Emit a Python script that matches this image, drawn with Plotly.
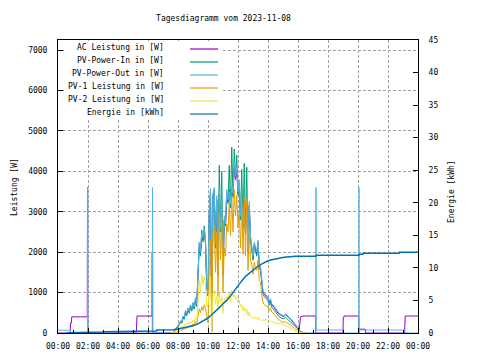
import pandas as pd
import plotly.graph_objects as go

DAY = "2023-11-08"
TITLE = "Tagesdiagramm vom 2023-11-08"
NAMES = ["AC Leistung in [W]", "PV-Power-In in [W]", "PV-Power-Out in [W]",
         "PV-1 Leistung in [W]", "PV-2 Leistung in [W]", "Energie in [kWh]"]
COLORS = ["#9400d3", "#009e73", "#56b4e9", "#e69f00", "#f0e442", "#0072b2"]

# day grid 07:30 .. 16:30 every 5 minutes (109 samples)
DAY_START, DAY_END, DAY_STEP = "07:30", "16:30", "5min"

PV_OUT_DAY = [
    0, 0, 20, 50, 90, 130, 170, 240, 300, 270, 420, 380,
    560, 480, 620, 540, 700, 600, 760, 650, 880, 720, 1500, 2250,
    2000, 2480, 2350, 2580, 2300, 1200, 950, 3050, 3580, 60, 3450, 3600,
    2200, 3400, 1500, 3550, 2600, 3000, 1500, 2900, 2700, 3550, 3300, 3500,
    3200, 3650, 3450, 4200, 3900, 4100, 3500, 3800, 2900, 3250, 2700, 3100,
    2550, 3300, 2100, 3250, 2400, 2200, 1900, 2250, 2100, 2000, 2300, 1700,
    1650, 1300, 1050, 1000, 950, 920, 900, 780, 850, 720, 700, 650,
    600, 560, 520, 480, 470, 450, 430, 440, 470, 450, 420, 400,
    360, 330, 290, 250, 200, 160, 120, 80, 50, 30, 15, 5,
    0]
PV_IN_DAY = [
    0, 0, 10, 35, 70, 110, 150, 210, 260, 240, 370, 340,
    500, 430, 560, 490, 640, 540, 690, 590, 800, 650, 1400, 2150,
    1900, 2550, 2250, 2650, 2200, 1100, 1000, 2950, 3500, 50, 3400, 3550,
    2100, 3300, 1450, 4150, 2500, 4000, 1450, 2800, 2650, 3450, 3200, 4150,
    3100, 4600, 3350, 4550, 3800, 4400, 3400, 3700, 2800, 4050, 2600, 4200,
    2450, 4100, 2000, 3150, 2300, 2100, 1800, 2150, 2000, 1900, 2200, 1600,
    1550, 1200, 950, 900, 860, 830, 800, 690, 760, 630, 610, 560,
    510, 480, 440, 400, 390, 370, 350, 360, 380, 360, 330, 310,
    280, 250, 220, 180, 140, 110, 80, 55, 35, 20, 10, 3,
    0]
PV1_DAY = [
    0, 0, 0, 5, 10, 20, 30, 50, 70, 60, 100, 90,
    140, 110, 170, 140, 200, 160, 230, 180, 280, 200, 400, 600,
    500, 650, 560, 700, 600, 350, 250, 1600, 2300, 20, 2500, 2600,
    1500, 2500, 900, 3000, 1800, 2900, 1000, 2100, 1900, 2700, 2500, 3200,
    2400, 3400, 2500, 3550, 2900, 3400, 2600, 3000, 2100, 3200, 1950, 3350,
    1900, 3300, 1550, 2550, 1800, 1700, 1450, 1750, 1600, 1550, 1800, 1300,
    1250, 950, 750, 700, 680, 650, 640, 560, 620, 520, 500, 460,
    420, 380, 350, 320, 300, 280, 260, 270, 280, 260, 240, 220,
    200, 170, 150, 120, 90, 70, 50, 35, 20, 10, 5, 0,
    0]
PV2_DAY = [
    0, 0, 5, 20, 40, 60, 80, 110, 140, 120, 180, 160,
    230, 190, 260, 220, 300, 250, 320, 270, 400, 300, 700, 1300,
    1000, 1450, 1200, 1400, 1150, 650, 700, 1000, 1400, 20, 1000, 1050,
    700, 900, 600, 1000, 750, 900, 500, 850, 800, 900, 850, 1000,
    750, 1050, 900, 950, 850, 900, 750, 800, 650, 700, 550, 650,
    500, 600, 420, 520, 400, 380, 350, 400, 360, 340, 400, 320,
    340, 300, 330, 300, 350, 320, 300, 280, 300, 270, 260, 250,
    250, 240, 240, 230, 230, 220, 210, 200, 190, 170, 150, 130,
    100, 80, 60, 45, 30, 20, 10, 5, 0, 0, 0, 0,
    0]
AC_DAY = [
    0, 0, 15, 45, 85, 120, 160, 230, 290, 260, 400, 360,
    540, 460, 600, 520, 680, 580, 740, 630, 850, 700, 1450, 2200,
    1950, 2400, 2300, 2500, 2250, 1150, 920, 2950, 3500, 50, 3350, 3500,
    2150, 3300, 1450, 3450, 2550, 2950, 1450, 2800, 2650, 3450, 3250, 3550,
    3100, 3550, 3400, 4100, 3800, 4000, 3450, 3700, 2850, 3150, 2650, 3000,
    2500, 3200, 2050, 3150, 2350, 2150, 1850, 2200, 2050, 1950, 2250, 1650,
    1600, 1250, 1000, 960, 910, 880, 860, 750, 810, 690, 670, 620,
    570, 530, 490, 460, 450, 430, 410, 420, 450, 430, 400, 380,
    340, 310, 270, 230, 190, 150, 110, 75, 400, 420, 420, 420,
    420]

# night / evening parts
AC_NIGHT_T = ["00:00", "00:49", "00:50", "00:54", "00:55", "01:57", "01:58", "01:59",
              "05:13", "05:14", "05:15", "05:16", "06:16", "06:17", "06:18", "07:29"]
AC_NIGHT_V = [0, 0, 250, 250, 400, 400, 3600, 0,
              0, 380, 380, 420, 420, 2000, 0, 0]
AC_EVE_T = ["17:10", "17:11", "19:00", "19:01", "19:03", "19:04", "20:02", "20:03",
            "20:04", "20:29", "20:30", "23:06", "23:07", "23:08", "23:09", "24:00"]
AC_EVE_V = [420, 0, 0, 380, 380, 420, 420, 0,
            95, 95, 0, 0, 380, 380, 420, 420]

PV_OUT_NIGHT_T = ["00:00", "00:49", "00:50", "01:58", "01:59", "02:00", "06:17", "06:18", "06:19", "06:20"]
PV_OUT_NIGHT_V = [70, 70, 0, 0, 3600, 0, 0, 3600, 1800, 0]
PV_OUT_EVE_T = ["17:11", "17:12", "17:13", "19:01", "19:02", "20:03", "20:04", "20:05", "23:07", "23:08", "24:00"]
PV_OUT_EVE_V = [0, 3600, 75, 75, 0, 0, 3600, 75, 75, 0, 0]

ENERGY_T = ["00:35", "01:59", "02:00", "02:59", "03:00", "04:14", "04:15", "06:34", "06:35",
            "07:39", "07:40", "08:00", "08:20", "08:40",
            "09:00", "09:20", "09:40", "10:00", "10:15", "10:30", "10:45", "11:00", "11:15",
            "11:30", "11:45", "12:00", "12:15", "12:30", "12:45", "13:00", "13:15", "13:30",
            "13:45", "14:00", "14:15", "14:30", "14:50", "15:05", "15:50", "17:11", "17:12",
            "20:04", "20:05", "20:19", "20:20", "22:44", "22:45", "24:00"]
ENERGY_V = [0.05, 0.05, 0.15, 0.15, 0.2, 0.2, 0.3, 0.3, 0.45,
            0.45, 0.5, 0.6, 0.75, 0.9,
            1.1, 1.4, 1.8, 2.3, 2.8, 3.3, 3.9, 4.5, 5.0,
            5.7, 6.5, 7.3, 8.0, 8.7, 9.2, 9.7, 10.1, 10.5,
            10.85, 11.1, 11.25, 11.35, 11.5, 11.63, 11.78, 11.78, 11.94,
            11.94, 12.1, 12.1, 12.24, 12.24, 12.4, 12.4]

Y_TICKS = [0, 1000, 2000, 3000, 4000, 5000, 6000, 7000]
Y2_TICKS = [0, 5, 10, 15, 20, 25, 30, 35, 40, 45]


def ts(hhmm):
    h, m = hhmm.split(":")
    return pd.Timestamp(DAY) + pd.Timedelta(hours=int(h), minutes=int(m))


day_t = list(pd.date_range(ts(DAY_START), ts(DAY_END), freq=DAY_STEP))

ac_t = [ts(t) for t in AC_NIGHT_T] + day_t + [ts(t) for t in AC_EVE_T]
ac_v = AC_NIGHT_V + AC_DAY + AC_EVE_V
out_t = [ts(t) for t in PV_OUT_NIGHT_T] + day_t + [ts(t) for t in PV_OUT_EVE_T]
out_v = PV_OUT_NIGHT_V + PV_OUT_DAY + PV_OUT_EVE_V
en_t = [ts(t) for t in ENERGY_T]

FONT = "DejaVu Sans Mono"
fig = go.Figure()
fig.add_trace(go.Scatter(x=ac_t, y=ac_v, mode="lines", line=dict(color=COLORS[0], width=1)))
fig.add_trace(go.Scatter(x=day_t, y=PV_IN_DAY, mode="lines", line=dict(color=COLORS[1], width=1)))
fig.add_trace(go.Scatter(x=out_t, y=out_v, mode="lines", line=dict(color=COLORS[2], width=1)))
fig.add_trace(go.Scatter(x=day_t, y=PV1_DAY, mode="lines", line=dict(color=COLORS[3], width=1)))
fig.add_trace(go.Scatter(x=day_t, y=PV2_DAY, mode="lines", line=dict(color=COLORS[4], width=1)))
fig.add_trace(go.Scatter(x=en_t, y=ENERGY_V, mode="lines", yaxis="y2",
                         line=dict(color=COLORS[5], width=1.5)))

# page offset of the figure (browser body margin)
OFF = 8
W, H = 480 - OFF, 360 - OFF
L, R, T, B = 58, 418, 40, 333   # plot area in page pixels


def px(xp):
    return (xp - L) / (R - L)


def py(yp):
    return (B - yp) / (B - T)


shapes = [dict(type="rect", xref="paper", yref="paper", x0=px(64), x1=px(222),
               y0=py(118), y1=py(T + 1), fillcolor="white", line=dict(width=0), layer="above")]
annotations = []
rows = [49, 62, 75, 88, 101, 114]
for name, col, yr in zip(NAMES, COLORS, rows):
    annotations.append(dict(text=name, x=px(166), y=py(yr - 1.5), xref="paper", yref="paper",
                            xanchor="right", yanchor="middle", showarrow=False,
                            font=dict(family=FONT, size=8, color="black")))
    shapes.append(dict(type="line", xref="paper", yref="paper", x0=px(190), x1=px(218),
                       y0=py(yr), y1=py(yr), line=dict(color=col, width=1.2), layer="above"))

annotations.append(dict(text="Leistung [W]", textangle=-90, x=px(14), y=py(187), xref="paper",
                        yref="paper", xanchor="center", yanchor="middle", showarrow=False,
                        font=dict(family=FONT, size=8, color="black")))
annotations.append(dict(text="Energie [kWh]", textangle=-90, x=px(452), y=py(192), xref="paper",
                        yref="paper", xanchor="center", yanchor="middle", showarrow=False,
                        font=dict(family=FONT, size=8, color="black")))

GRID = dict(showgrid=True, gridcolor="#a0a0a0", griddash="3px,2px", gridwidth=1)

fig.update_layout(
    width=W, height=H,
    margin=dict(l=L - OFF, r=W + OFF - R, t=T - OFF, b=H + OFF - B, autoexpand=False),
    paper_bgcolor="white", plot_bgcolor="white",
    showlegend=False,
    font=dict(family=FONT, size=8, color="black"),
    title=dict(text=TITLE, x=(223.5 - OFF) / W, xref="container", xanchor="center",
               y=1 - (18 - OFF) / H, yref="container", yanchor="middle",
               font=dict(family=FONT, size=8, color="black")),
    xaxis=dict(type="date", range=[ts("00:00"), ts("24:00")], dtick=2 * 3600 * 1000,
               tick0=ts("00:00"), tickformat="%H:%M", ticks="inside", ticklen=5,
               tickcolor="black", showline=True, linecolor="black", linewidth=1, mirror=True,
               zeroline=False, ticklabelstandoff=5,
               minor=dict(dtick=3600 * 1000, ticks="inside", ticklen=3, tickcolor="black", showgrid=False),
               **GRID),
    yaxis=dict(range=[0, 7250], tickvals=Y_TICKS, ticks="inside", ticklen=5, tickcolor="black",
               showline=True, linecolor="black", linewidth=1, mirror=True, zeroline=False,
               ticklabelstandoff=8, **GRID),
    yaxis2=dict(range=[0, 45], tickvals=Y2_TICKS, overlaying="y", side="right",
                ticks="inside", ticklen=5, tickcolor="black", showline=True, linecolor="black",
                showgrid=False, zeroline=False, ticklabelstandoff=8),
    shapes=shapes, annotations=annotations,
)

fig.write_html("out.html")
